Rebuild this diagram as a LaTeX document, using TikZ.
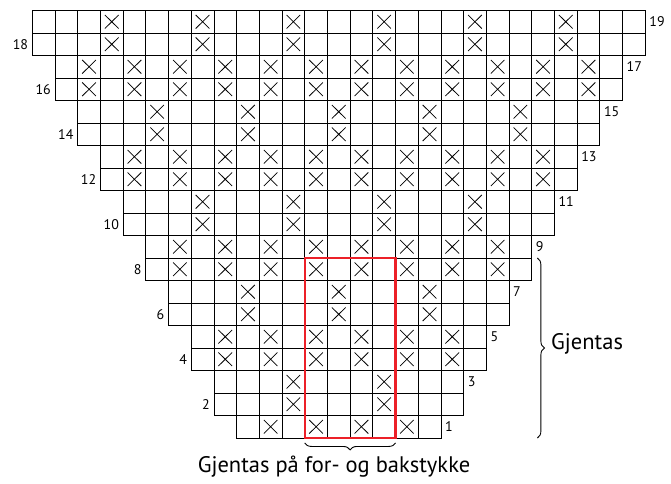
\documentclass[tikz,border=0pt]{standalone}
\usepackage{fontspec}
\setmainfont{PT Sans}
\usepackage{xcolor}
\usetikzlibrary{decorations.pathreplacing}
\definecolor{repred}{RGB}{236,32,40}

\begin{document}
\begin{tikzpicture}[x=22.7pt, y=22.5pt,
    cell/.style={draw, line width=0.7pt},
    cross/.style={line width=0.75pt},
    rowno/.style={inner sep=4pt, font=\fontsize{14}{14}\selectfont},
    repbox/.style={draw=repred, line width=2.4pt},
    brc/.style={decorate, decoration={brace, amplitude=7pt}, line width=0.9pt},
    lbl/.style={font=\fontsize{22.5}{23}\selectfont}]
  \useasboundingbox (-32.3pt,-45pt) rectangle (638.7pt,438pt);

  % grid, two rows per step, widening upward
  \foreach \r in {1,...,19} {
    \pgfmathtruncatemacro\p{int(\r/2)}
    \pgfmathtruncatemacro\a{9-\p}
    \pgfmathtruncatemacro\b{17+\p}
    \foreach \c in {\a,...,\b} {
      \draw[cell] (\c,\r-1) rectangle ++(1,1);
      \pgfmathtruncatemacro\m{ifthenelse(mod(\p,2)==0, mod(\c,2)==0, mod(\c-\p+38,4)==0)}
      \ifnum\m=1
        \draw[cross] (\c+0.2,\r-0.8) -- (\c+0.8,\r-0.2)
                     (\c+0.2,\r-0.2) -- (\c+0.8,\r-0.8);
      \fi
    }
    \pgfmathtruncatemacro\odd{mod(\r,2)}
    \ifnum\odd=1
      \node[rowno, anchor=west] (n\r) at (\b+1,\r-0.5) {\r};
    \else
      \node[rowno, anchor=east] (n\r) at (\a,\r-0.5) {\r};
    \fi
  }

  % repeat box
  \coordinate (boxsw) at (12,0);
  \coordinate (boxne) at (16,8);
  \draw[repbox] (boxsw) rectangle (boxne);

  \coordinate (bl) at (12,-0.22);
  \coordinate (br) at (16,-0.22);
  \draw[brc] (br) -- (bl);
  \node[lbl] (rep) at (13.29,-1.27) {Gjentas på for- og bakstykke};

  \coordinate (rt) at (22.25,8);
  \coordinate (rb) at (22.25,0);
  \draw[brc] (rt) -- (rb);
  \node[lbl, anchor=west, inner sep=0pt] (rows) at (22.85,4.17) {Gjentas};
\end{tikzpicture}
\end{document}
